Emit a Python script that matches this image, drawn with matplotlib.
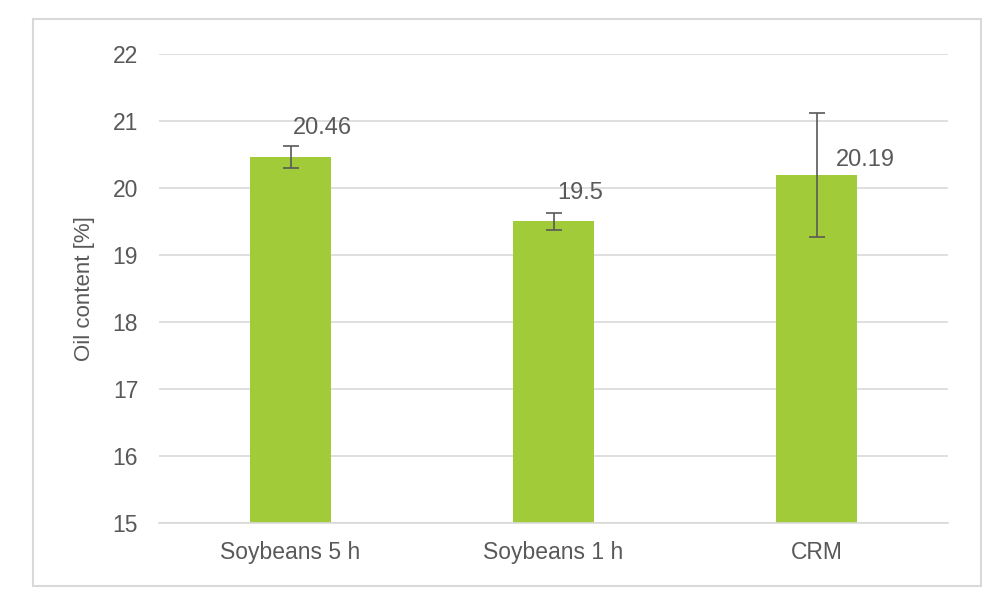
import matplotlib.pyplot as plt
from matplotlib.patches import Rectangle

plt.rcParams["font.family"] = ["Liberation Sans", "DejaVu Sans"]

categories = ["Soybeans 5 h", "Soybeans 1 h", "CRM"]
oil_content = [20.46, 19.5, 20.19]
errors = [0.16, 0.13, 0.92]
labels = ["20.46", "19.5", "20.19"]

TEXT = "#595959"
GRID = "#d9d9d9"
BAR = "#a2cb3a"

fig = plt.figure(figsize=(10, 6.16), dpi=100)
ax = fig.add_axes([0.159, 0.151, 0.789, 0.762])

x = range(len(categories))
ax.bar(x, [v - 15 for v in oil_content], bottom=15, width=0.31, color=BAR, zorder=2)
ax.errorbar(x, oil_content, yerr=errors, fmt="none", ecolor="#595959",
            elinewidth=1.2, capsize=6, capthick=1.2, zorder=3)

# value labels, offset like the original
offsets = [(2, 21), (3, 20), (14, 11)]
for i, (v, lab) in enumerate(zip(oil_content, labels)):
    ax.annotate(lab, (i, v), xytext=offsets[i], textcoords="offset points",
                ha="left", va="center", fontsize=17, color=TEXT)

ax.set_xlim(-0.5, 2.5)
ax.set_ylim(15, 22)
ax.set_yticks(range(15, 23))
ax.set_xticks(list(x))
ax.set_xticklabels(categories)
ax.tick_params(axis="both", length=0, labelsize=16.5, labelcolor=TEXT)
ax.tick_params(axis="y", pad=15)
ax.tick_params(axis="x", pad=13)
ax.grid(axis="y", color=GRID, linewidth=1.2, zorder=0)
ax.set_axisbelow(True)
for s in ["top", "right", "left"]:
    ax.spines[s].set_visible(False)
ax.spines["bottom"].set_color(GRID)
ax.spines["bottom"].set_linewidth(1.2)
ax.set_ylabel("Oil content [%]", fontsize=16, color=TEXT, labelpad=13)

# chart-area border
fig.patches.append(Rectangle((0.033, 0.049), 0.948, 0.92, transform=fig.transFigure,
                             fill=False, edgecolor="#d9d9d9", linewidth=1.5))

fig.savefig("out.png", dpi=100)
